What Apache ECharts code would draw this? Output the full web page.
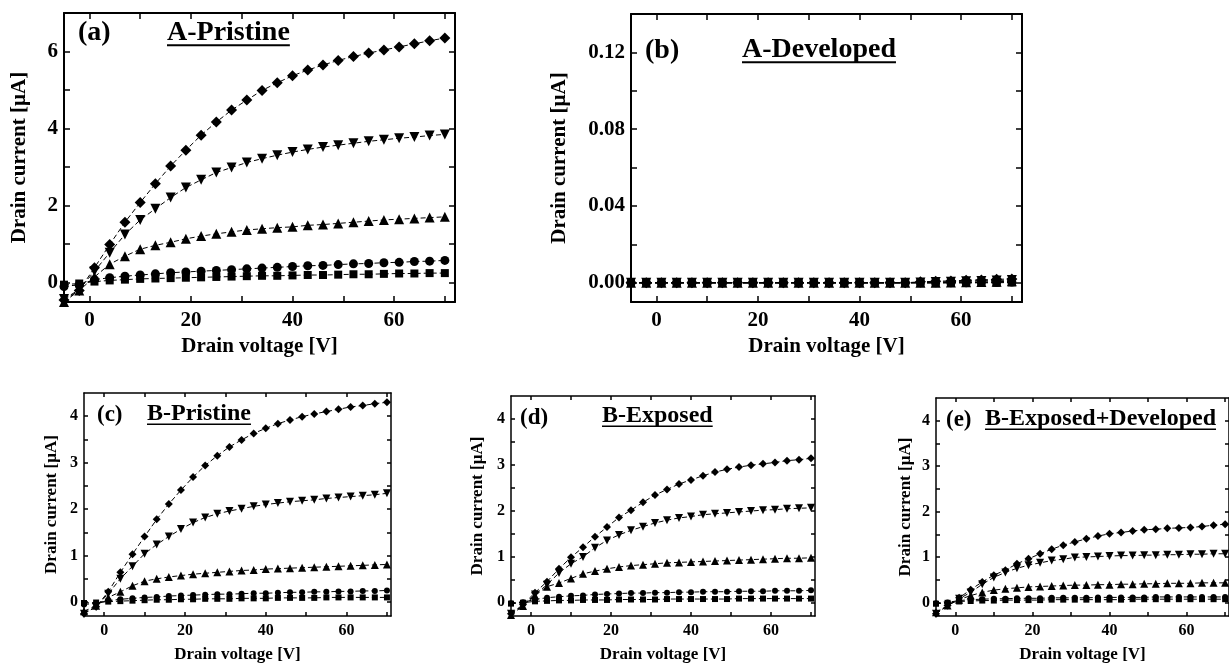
<!DOCTYPE html>
<html>
<head>
<meta charset="utf-8">
<script src="https://cdn.jsdelivr.net/npm/echarts@6/dist/echarts.min.js"></script>
<style>
html, body { margin: 0; padding: 0; background: #fff; }
#chart { width: 1229px; height: 664px; }
</style>
</head>
<body>
<div id="chart"></div>
<script>
// drain voltage sweep [V]
const voltage = [-5, -2, 1, 4, 7, 10, 13, 16, 19, 22, 25, 28, 31, 34, 37, 40, 43, 46, 49, 52, 55, 58, 61, 64, 67, 70];
const xLabels = [0, 20, 40, 60];
const xTicks = [0, 10, 20, 30, 40, 50, 60, 70];

// (a) A-Pristine, drain current [uA]
const aSquare = [-0.05, -0.02, 0.03, 0.06, 0.08, 0.1, 0.11, 0.12, 0.13, 0.14, 0.15, 0.16, 0.17, 0.18, 0.18, 0.19, 0.2, 0.2, 0.21, 0.22, 0.22, 0.23, 0.24, 0.24, 0.25, 0.25];
const aCircle = [-0.1, -0.05, 0.08, 0.13, 0.17, 0.2, 0.23, 0.26, 0.28, 0.3, 0.32, 0.34, 0.36, 0.38, 0.4, 0.42, 0.44, 0.45, 0.47, 0.49, 0.5, 0.52, 0.53, 0.55, 0.56, 0.58];
const aUp = [-0.5, -0.2, 0.15, 0.48, 0.69, 0.87, 0.97, 1.05, 1.14, 1.21, 1.27, 1.32, 1.37, 1.4, 1.43, 1.45, 1.49, 1.51, 1.54, 1.57, 1.6, 1.63, 1.65, 1.67, 1.69, 1.71];
const aDown = [-0.42, -0.18, 0.3, 0.78, 1.25, 1.63, 1.92, 2.21, 2.47, 2.67, 2.86, 2.99, 3.12, 3.22, 3.31, 3.39, 3.46, 3.52, 3.57, 3.62, 3.67, 3.71, 3.75, 3.78, 3.82, 3.85];
const aDiamond = [-0.45, -0.2, 0.39, 0.99, 1.57, 2.08, 2.57, 3.03, 3.44, 3.83, 4.17, 4.48, 4.74, 4.99, 5.19, 5.37, 5.52, 5.65, 5.77, 5.87, 5.96, 6.04, 6.12, 6.2, 6.28, 6.35];

// (b) A-Developed
const bSquare = [0, 0, 0, 0, 0, 0, 0, 0, 0, 0, 0, 0, 0, 0, 0, 0, 0, 0, 0, 0, 0, 0, 0, 0, 0, 0.0002];
const bCircle = [0, 0, 0, 0, 0, 0, 0, 0, 0, 0, 0, 0, 0, 0, 0, 0, 0, 0, 0, 0, 0, 0, 0, 0.0002, 0.0003, 0.0004];
const bUp = [0, 0, 0, 0, 0, 0, 0, 0, 0, 0, 0, 0, 0, 0, 0, 0, 0, 0, 0, 0, 0, 0.0002, 0.0003, 0.0004, 0.0006, 0.0008];
const bDown = [0, 0, 0, 0, 0, 0, 0, 0, 0, 0, 0, 0, 0, 0, 0, 0, 0, 0, 0, 0.0002, 0.0004, 0.0006, 0.0008, 0.001, 0.0012, 0.0014];
const bDiamond = [0, 0, 0, 0, 0, 0, 0, 0, 0, 0, 0, 0, 0, 0, 0, 0, 0, 0, 0, 0.0005, 0.0008, 0.001, 0.0013, 0.0015, 0.0018, 0.002];

// (c) B-Pristine
const cSquare = [-0.02, -0.01, 0.01, 0.02, 0.03, 0.04, 0.05, 0.05, 0.06, 0.06, 0.07, 0.07, 0.07, 0.08, 0.08, 0.08, 0.09, 0.09, 0.09, 0.09, 0.1, 0.1, 0.1, 0.1, 0.1, 0.1];
const cCircle = [-0.05, -0.03, 0.03, 0.06, 0.08, 0.1, 0.11, 0.13, 0.14, 0.15, 0.16, 0.17, 0.17, 0.18, 0.19, 0.19, 0.2, 0.21, 0.21, 0.22, 0.22, 0.23, 0.23, 0.24, 0.24, 0.25];
const cUp = [-0.2, -0.08, 0.1, 0.22, 0.35, 0.45, 0.5, 0.54, 0.57, 0.6, 0.62, 0.64, 0.66, 0.68, 0.69, 0.71, 0.72, 0.73, 0.74, 0.75, 0.76, 0.77, 0.78, 0.79, 0.8, 0.81];
const cDown = [-0.25, -0.1, 0.18, 0.5, 0.77, 1.04, 1.24, 1.41, 1.57, 1.71, 1.82, 1.9, 1.96, 2.01, 2.06, 2.1, 2.13, 2.16, 2.18, 2.2, 2.23, 2.25, 2.27, 2.29, 2.31, 2.34];
const cDiamond = [-0.25, -0.1, 0.22, 0.64, 1.03, 1.41, 1.78, 2.11, 2.41, 2.69, 2.94, 3.15, 3.34, 3.49, 3.63, 3.74, 3.84, 3.92, 3.99, 4.05, 4.1, 4.15, 4.2, 4.23, 4.27, 4.3];

// (d) B-Exposed
const dSquare = [-0.03, -0.01, 0.02, 0.03, 0.04, 0.04, 0.05, 0.05, 0.05, 0.06, 0.06, 0.06, 0.06, 0.07, 0.07, 0.07, 0.07, 0.07, 0.07, 0.08, 0.08, 0.08, 0.08, 0.08, 0.08, 0.08];
const dCircle = [-0.02, 0, 0.06, 0.1, 0.12, 0.14, 0.15, 0.17, 0.18, 0.19, 0.2, 0.2, 0.21, 0.21, 0.22, 0.22, 0.23, 0.23, 0.23, 0.24, 0.24, 0.24, 0.25, 0.25, 0.25, 0.26];
const dUp = [-0.28, -0.08, 0.15, 0.34, 0.42, 0.52, 0.62, 0.68, 0.73, 0.77, 0.8, 0.82, 0.84, 0.86, 0.87, 0.88, 0.89, 0.9, 0.91, 0.92, 0.93, 0.94, 0.95, 0.96, 0.96, 0.97];
const dDown = [-0.25, -0.07, 0.17, 0.38, 0.64, 0.84, 0.99, 1.19, 1.35, 1.47, 1.57, 1.65, 1.73, 1.79, 1.84, 1.87, 1.91, 1.93, 1.95, 1.97, 1.99, 2.01, 2.02, 2.04, 2.05, 2.06];
const dDiamond = [-0.25, -0.05, 0.21, 0.45, 0.73, 0.98, 1.2, 1.43, 1.64, 1.85, 2.01, 2.18, 2.34, 2.46, 2.58, 2.67, 2.76, 2.84, 2.9, 2.95, 2.99, 3.02, 3.05, 3.09, 3.11, 3.14];

// (e) B-Exposed+Developed
const eSquare = [-0.03, -0.01, 0.02, 0.03, 0.04, 0.04, 0.05, 0.05, 0.05, 0.05, 0.06, 0.06, 0.06, 0.06, 0.06, 0.06, 0.06, 0.07, 0.07, 0.07, 0.07, 0.07, 0.07, 0.07, 0.07, 0.07];
const eCircle = [-0.02, 0, 0.04, 0.06, 0.07, 0.08, 0.08, 0.09, 0.09, 0.09, 0.1, 0.1, 0.1, 0.1, 0.11, 0.11, 0.11, 0.11, 0.11, 0.12, 0.12, 0.12, 0.12, 0.12, 0.12, 0.12];
const eUp = [-0.22, -0.07, 0.06, 0.15, 0.22, 0.27, 0.3, 0.32, 0.34, 0.35, 0.36, 0.37, 0.38, 0.38, 0.39, 0.39, 0.4, 0.4, 0.41, 0.41, 0.42, 0.42, 0.42, 0.43, 0.43, 0.43];
const eDown = [-0.25, -0.07, 0.08, 0.22, 0.4, 0.55, 0.66, 0.75, 0.82, 0.87, 0.92, 0.95, 0.99, 1.0, 1.01, 1.02, 1.03, 1.03, 1.04, 1.04, 1.05, 1.05, 1.06, 1.06, 1.07, 1.07];
const eDiamond = [-0.25, -0.07, 0.1, 0.28, 0.45, 0.6, 0.71, 0.85, 0.96, 1.07, 1.17, 1.26, 1.33, 1.4, 1.46, 1.51, 1.54, 1.57, 1.6, 1.61, 1.63, 1.64, 1.65, 1.67, 1.7, 1.72];

const FONT = 'Liberation Serif';

function PaintChart() {
    const chart = echarts.init(document.getElementById('chart'));

    const panels = [
        { tag: '(a)', title: 'A-Pristine', big: true,
          grid: { left: 64, top: 13, width: 391, height: 289 }, xMax: 72,
          yMin: -0.5, yMax: 7, yLabels: [0, 2, 4, 6], yTicks: [0, 1, 2, 3, 4, 5, 6],
          yGap: 34, tagPos: [78, 33], titlePos: [167, 33],
          data: [aSquare, aCircle, aUp, aDown, aDiamond] },
        { tag: '(b)', title: 'A-Developed', big: true, fixed: 2,
          grid: { left: 631, top: 14, width: 391, height: 288 }, xMax: 72,
          yMin: -0.01, yMax: 0.14, yLabels: [0, 0.04, 0.08, 0.12], yTicks: [0, 0.02, 0.04, 0.06, 0.08, 0.1, 0.12],
          yGap: 61, tagPos: [645, 51], titlePos: [742, 50],
          data: [bSquare, bCircle, bUp, bDown, bDiamond] },
        { tag: '(c)', title: 'B-Pristine',
          grid: { left: 84, top: 393, width: 307, height: 228 }, xMax: 71,
          yMin: -0.3, yMax: 4.5, yLabels: [0, 1, 2, 3, 4], yTicks: [0, 0.5, 1, 1.5, 2, 2.5, 3, 3.5, 4],
          yGap: 24, tagPos: [97, 415], titlePos: [147, 414],
          data: [cSquare, cCircle, cUp, cDown, cDiamond] },
        { tag: '(d)', title: 'B-Exposed',
          grid: { left: 511, top: 396, width: 304, height: 229 }, xMax: 71,
          yMin: -0.3, yMax: 4.5, yLabels: [0, 1, 2, 3, 4], yTicks: [0, 0.5, 1, 1.5, 2, 2.5, 3, 3.5, 4],
          yGap: 25, tagPos: [520, 418], titlePos: [602, 416],
          data: [dSquare, dCircle, dUp, dDown, dDiamond] },
        { tag: '(e)', title: 'B-Exposed+Developed',
          grid: { left: 936, top: 398, width: 305, height: 225 }, xMax: 71,
          yMin: -0.3, yMax: 4.5, yLabels: [0, 1, 2, 3, 4], yTicks: [0, 0.5, 1, 1.5, 2, 2.5, 3, 3.5, 4],
          yGap: 22, tagPos: [946, 420], titlePos: [985, 419],
          data: [eSquare, eCircle, eUp, eDown, eDiamond] }
    ];

    // square, circle, up triangle, down triangle, diamond
    const marks = [
        { symbol: 'rect', size: 0.75, rotate: 0 },
        { symbol: 'circle', size: 0.85, rotate: 0 },
        { symbol: 'triangle', size: 1, rotate: 0 },
        { symbol: 'triangle', size: 1, rotate: 180 },
        { symbol: 'diamond', size: 1.1, rotate: 0 }
    ];

    const grids = [], xAxes = [], yAxes = [], series = [], graphics = [];

    panels.forEach(function (p, i) {
        const tickFont = p.big ? 21 : 16;
        const nameFont = p.big ? 21 : 17;
        const lineW = p.big ? 2 : 1.5;
        const tickLen = p.big ? 6 : 4;
        grids.push(Object.assign({ containLabel: false }, p.grid));

        const axisBase = {
            gridIndex: i,
            type: 'value',
            axisLine: { onZero: false, lineStyle: { color: '#000', width: lineW } },
            splitLine: { show: false },
            axisTick: { inside: true, length: tickLen, lineStyle: { color: '#000', width: 1.5 } }
        };

        xAxes.push(Object.assign({}, axisBase, {
            position: 'bottom', min: -5, max: p.xMax,
            axisTick: Object.assign({}, axisBase.axisTick, { customValues: xTicks }),
            axisLabel: { customValues: xLabels, color: '#000', fontFamily: FONT, fontWeight: 'bold', fontSize: tickFont, margin: p.big ? 8 : 7 },
            name: 'Drain voltage [V]', nameLocation: 'middle', nameGap: p.big ? 34 : 30,
            nameTextStyle: { color: '#000', fontFamily: FONT, fontWeight: 'bold', fontSize: nameFont }
        }));
        xAxes.push(Object.assign({}, axisBase, {
            position: 'top', min: -5, max: p.xMax,
            axisTick: Object.assign({}, axisBase.axisTick, { customValues: xTicks }),
            axisLabel: { show: false }
        }));

        yAxes.push(Object.assign({}, axisBase, {
            position: 'left', min: p.yMin, max: p.yMax,
            axisTick: Object.assign({}, axisBase.axisTick, { customValues: p.yTicks }),
            axisLabel: {
                customValues: p.yLabels, color: '#000', fontFamily: FONT, fontWeight: 'bold', fontSize: tickFont, margin: 6,
                formatter: function (v) { return p.fixed ? v.toFixed(p.fixed) : String(v); }
            },
            name: 'Drain current [\u00b5A]', nameLocation: 'middle', nameGap: p.yGap,
            nameTextStyle: { color: '#000', fontFamily: FONT, fontWeight: 'bold', fontSize: nameFont }
        }));
        yAxes.push(Object.assign({}, axisBase, {
            position: 'right', min: p.yMin, max: p.yMax,
            axisTick: Object.assign({}, axisBase.axisTick, { customValues: p.yTicks }),
            axisLabel: { show: false }
        }));

        const base = p.big ? 10 : 7.5;
        p.data.forEach(function (arr, k) {
            const m = marks[k];
            series.push({
                type: 'line',
                xAxisIndex: 2 * i,
                yAxisIndex: 2 * i,
                data: voltage.map(function (v, j) { return [v, arr[j]]; }),
                symbol: m.symbol,
                symbolSize: Math.round(base * m.size),
                symbolRotate: m.rotate,
                showSymbol: true,
                lineStyle: { color: '#000', width: 1, type: [5, 3] },
                itemStyle: { color: '#000' },
                z: 3 + k
            });
        });

        const titleFont = p.big ? 28 : 24;
        graphics.push({
            type: 'text', x: p.tagPos[0], y: p.tagPos[1],
            style: { text: p.tag, fill: '#000', fontFamily: FONT, fontWeight: 'bold', fontSize: p.big ? 28 : 23, textVerticalAlign: 'middle' }
        });
        graphics.push({
            type: 'text', x: p.titlePos[0], y: p.titlePos[1],
            style: { text: p.title, fill: '#000', fontFamily: FONT, fontWeight: 'bold', fontSize: titleFont, textVerticalAlign: 'middle' }
        });
        const w = echarts.format.getTextRect
            ? echarts.format.getTextRect(p.title, 'bold ' + titleFont + 'px "' + FONT + '"').width
            : p.title.length * titleFont * 0.5;
        graphics.push({
            type: 'rect',
            shape: { x: p.titlePos[0], y: p.titlePos[1] + titleFont * 0.4, width: w, height: p.big ? 2 : 1.5 },
            style: { fill: '#000' }
        });
    });

    const option = {
        animation: false,
        backgroundColor: '#fff',
        grid: grids,
        xAxis: xAxes,
        yAxis: yAxes,
        series: series,
        graphic: graphics
    };

    chart.setOption(option);
}

PaintChart();
</script>
</body>
</html>
